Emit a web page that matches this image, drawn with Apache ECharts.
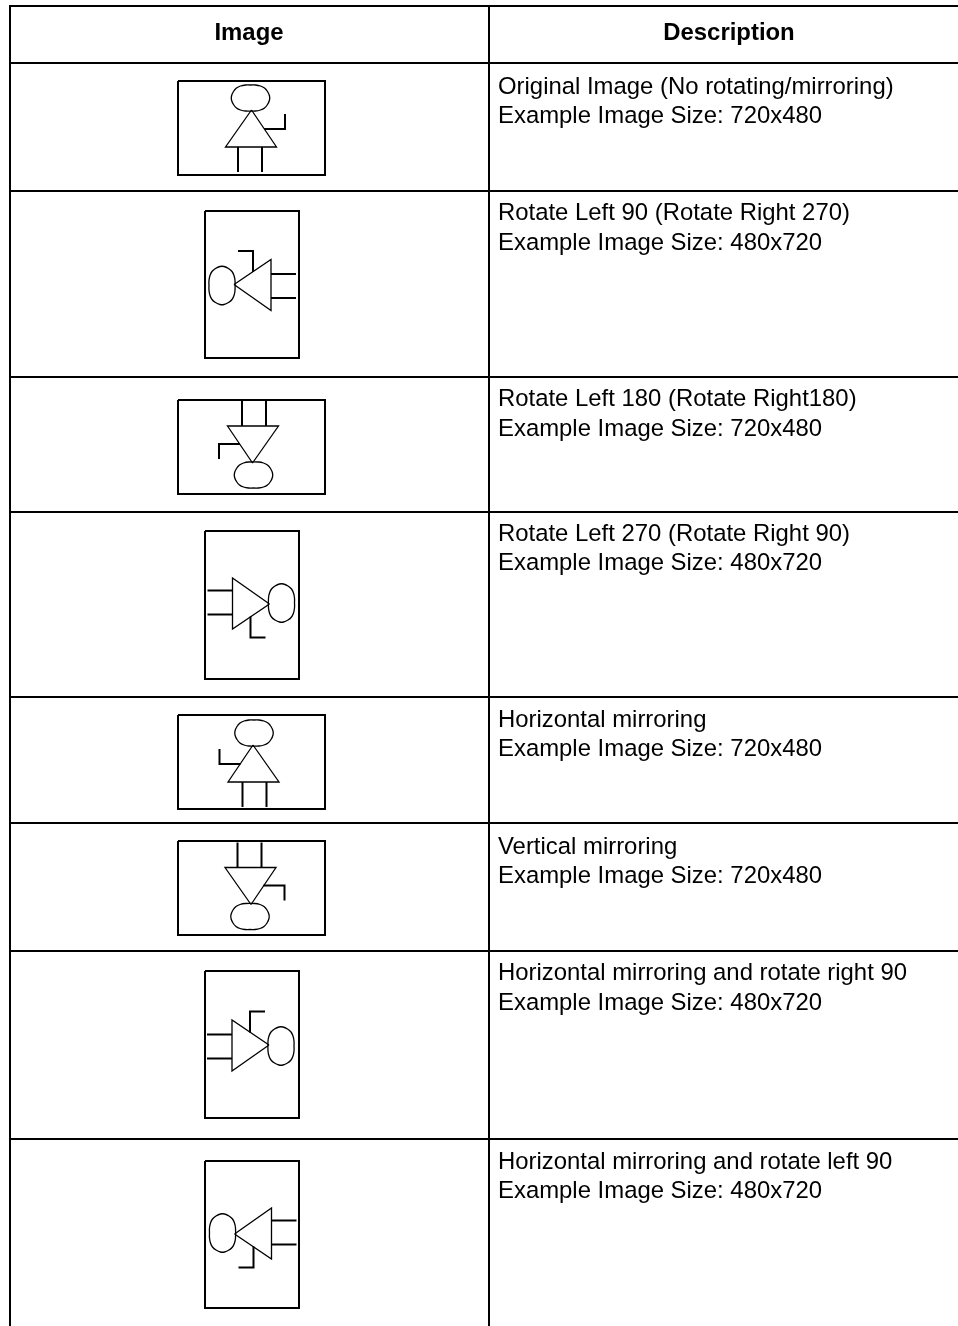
<!DOCTYPE html>
<html>
<head>
<meta charset="utf-8">
<title>Image rotation and mirroring</title>
<script src="https://cdn.jsdelivr.net/npm/echarts@6/dist/echarts.min.js"></script>
<style>
    html, body { margin: 0; padding: 0; background: #ffffff; }
    #chart { width: 958px; height: 1326px; }
</style>
</head>
<body>
<div id="chart"></div>
<script>
// Table text
const headers = ['Image', 'Description'];
const titles = [
    'Original Image (No rotating/mirroring)',
    'Rotate Left 90 (Rotate Right 270)',
    'Rotate Left 180 (Rotate Right180)',
    'Rotate Left 270 (Rotate Right 90)',
    'Horizontal mirroring',
    'Vertical mirroring',
    'Horizontal mirroring and rotate right 90',
    'Horizontal mirroring and rotate left 90'
];
const sizes = ['720x480', '480x720', '720x480', '480x720', '720x480', '720x480', '480x720', '480x720'];

// Table lines
const rowLines = [6, 63, 191, 377, 512, 697, 823, 951, 1139];
const columnLines = [10, 489];
const headerY = 33;
const titleY = [87, 213, 399, 534, 720, 847, 973, 1162];
const sizeY = [116, 243, 429, 563, 749, 876, 1003, 1191];

// Frames of the small pictures: left, top, right, bottom
const frames = [
    [178, 81, 325, 175],
    [205, 211, 299, 358],
    [178, 400, 325, 494],
    [205, 531, 299, 679],
    [178, 715, 325, 809],
    [178, 841, 325, 935],
    [205, 971, 299, 1118],
    [205, 1161, 299, 1308]
];
const figureCenters = [
    [251.5, 128], [252, 284.5], [252.5, 445], [251.5, 604],
    [253, 763], [251, 886.5], [251, 1045], [252.5, 1234]
];
// 2x2 matrix of each row: x' = a*x + b*y, y' = c*x + d*y
const turns = [
    [1, 0, 0, 1], [0, 1, -1, 0], [-1, 0, 0, -1], [0, -1, 1, 0],
    [-1, 0, 0, 1], [1, 0, 0, -1], [0, -1, -1, 0], [0, 1, 1, 0]
];

// The little figure, in the orientation of the first row
const body = [[0, -18], [25, 19], [-26, 19], [0, -18]];
const arm = [[12.5, 1], [33.5, 1], [33.5, -14]];
const legLeft = [[-13.5, 19], [-13.5, 44]];
const legRight = [[10.5, 19], [10.5, 44]];
const head = [
    [-1, -43], [4, -43], [9, -42], [13, -40], [16, -36.5], [18, -32],
    [18, -28], [16, -23.5], [13, -20], [9, -18], [4, -17],
    [-6, -17], [-11, -18], [-15, -20], [-18, -23.5], [-20, -28],
    [-20, -32], [-18, -36.5], [-15, -40], [-11, -42], [-6, -43], [-1, -43]
];

const THIN = 1.3;
const THICK = 2;

const turnPoint = (row, p) => {
    const t = turns[row];
    const c = figureCenters[row];
    return [c[0] + t[0] * p[0] + t[1] * p[1], c[1] + t[2] * p[0] + t[3] * p[1]];
};

// Collect everything that is a plain stroke
const strokes = [];
rowLines.forEach(y => strokes.push({ points: [[columnLines[0] - 1, y], [958, y]], width: THICK }));
columnLines.forEach(x => strokes.push({ points: [[x, rowLines[0]], [x, 1326]], width: THICK }));
frames.forEach((f, row) => {
    strokes.push({
        points: [[f[0], f[1]], [f[2], f[1]], [f[2], f[3]], [f[0], f[3]], [f[0], f[1]]],
        width: THICK
    });
    strokes.push({ points: body.map(p => turnPoint(row, p)), width: THIN });
    strokes.push({ points: head.map(p => turnPoint(row, p)), width: THIN, smooth: 0.4 });
    [arm, legLeft, legRight].forEach(part => {
        strokes.push({ points: part.map(p => turnPoint(row, p)), width: THICK });
    });
});

// All texts of the table
const FONT = '"Liberation Sans", Arial, Helvetica, sans-serif';
const texts = [
    { x: 249, y: headerY, text: headers[0], bold: true, align: 'center' },
    { x: 729, y: headerY, text: headers[1], bold: true, align: 'center' }
];
titles.forEach((title, i) => {
    texts.push({ x: 498, y: titleY[i], text: title, align: 'left' });
    texts.push({ x: 498, y: sizeY[i], text: 'Example Image Size: ' + sizes[i], align: 'left' });
});

const chart = echarts.init(document.getElementById('chart'), null, { renderer: 'canvas' });

const option = {
    animation: false,
    backgroundColor: '#ffffff',
    grid: { left: 0, right: 0, top: 0, bottom: 0 },
    xAxis: { type: 'value', min: 0, max: 958, show: false },
    yAxis: { type: 'value', min: 0, max: 1326, inverse: true, show: false },
    series: [
        {
            type: 'custom',
            coordinateSystem: 'cartesian2d',
            clip: false,
            silent: true,
            data: strokes.map((s, i) => [i]),
            renderItem: (params, api) => {
                const s = strokes[api.value(0)];
                return {
                    type: 'polyline',
                    shape: { points: s.points.map(p => api.coord(p)), smooth: s.smooth || 0 },
                    style: { fill: null, stroke: '#000000', lineWidth: s.width, lineCap: 'butt', lineJoin: 'miter' }
                };
            }
        },
        {
            type: 'custom',
            coordinateSystem: 'cartesian2d',
            clip: false,
            silent: true,
            data: texts.map((t, i) => [i]),
            renderItem: (params, api) => {
                const t = texts[api.value(0)];
                const p = api.coord([t.x, t.y]);
                return {
                    type: 'text',
                    x: p[0],
                    y: p[1],
                    style: {
                        text: t.text,
                        fill: '#000000',
                        font: (t.bold ? 'bold ' : '') + '23.9px ' + FONT,
                        align: t.align,
                        verticalAlign: 'middle'
                    }
                };
            }
        }
    ]
};

chart.setOption(option);
</script>
</body>
</html>
